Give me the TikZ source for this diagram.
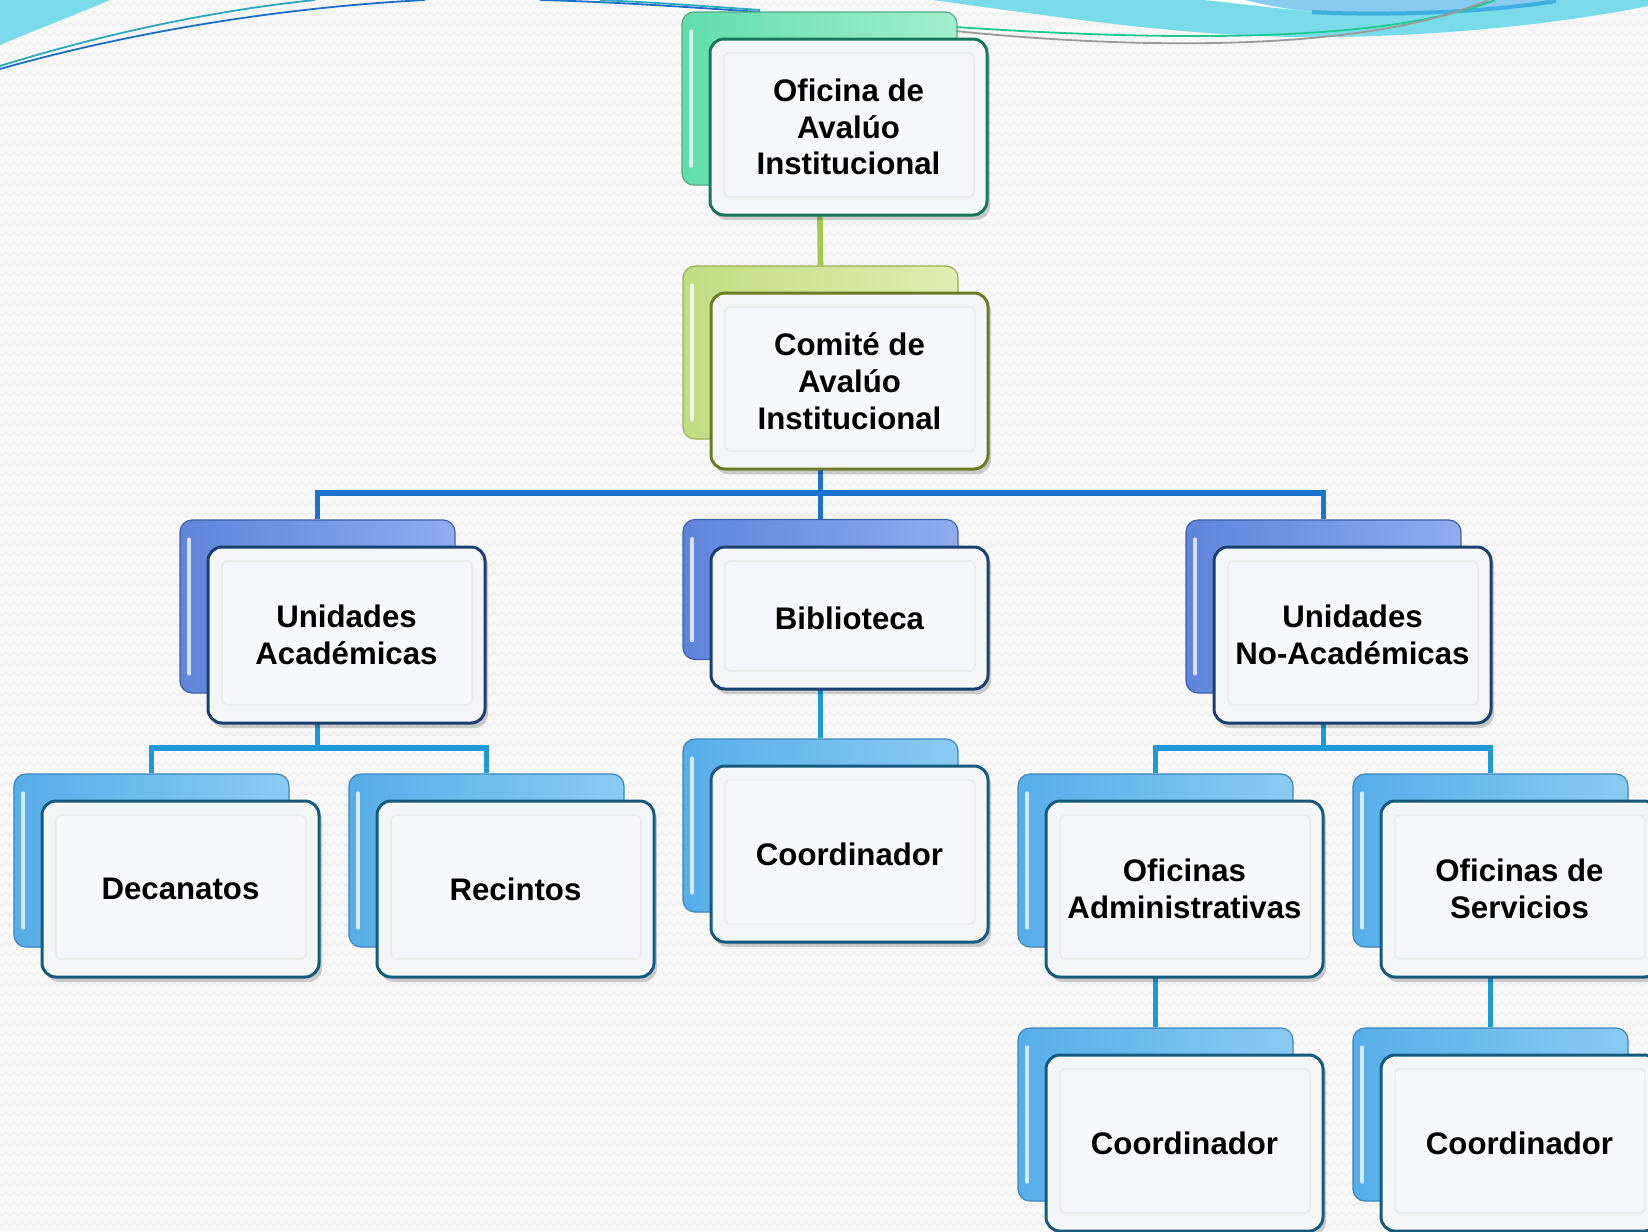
\documentclass[tikz,border=0pt]{standalone}
\usepackage{fontspec}
\setmainfont{Liberation Sans}
\usetikzlibrary{shadows,decorations.pathmorphing}
\pgfdeclarelayer{bg}\pgfdeclarelayer{deco}\pgfdeclarelayer{conn}
\pgfsetlayers{bg,deco,conn,main}
\definecolor{bgc}{HTML}{F8F8F8}
\definecolor{zz}{HTML}{EEEEEE}
\definecolor{cyanA}{HTML}{7ADBE8}
\definecolor{cyanB}{HTML}{88CDF0}
\definecolor{cyanC}{HTML}{40B0E0}
\definecolor{lnTeal}{HTML}{2AA9C0}
\definecolor{lnBlue}{HTML}{1B6FC9}
\definecolor{lnGreen}{HTML}{1DC98F}
\definecolor{lnGrey}{HTML}{9A9A9A}
\definecolor{mintL}{HTML}{A2EFD0}\definecolor{mintD}{HTML}{62DDAE}\definecolor{mintE}{HTML}{55A988}\definecolor{mintF}{HTML}{17775A}
\definecolor{limeL}{HTML}{E0EEB0}\definecolor{limeD}{HTML}{C3DC82}\definecolor{limeE}{HTML}{98B055}\definecolor{limeF}{HTML}{6B7A27}
\definecolor{periL}{HTML}{8FACEE}\definecolor{periD}{HTML}{5F84DA}\definecolor{periE}{HTML}{3F60A8}\definecolor{periF}{HTML}{1C3F72}
\definecolor{skyL}{HTML}{8ACBF3}\definecolor{skyD}{HTML}{57AEE8}\definecolor{skyE}{HTML}{3C86BE}\definecolor{skyF}{HTML}{165A80}
\definecolor{frontfill}{HTML}{F4F6F8}
\definecolor{innerfill}{HTML}{F6F8FB}
\definecolor{conLime}{HTML}{A6C94C}
\definecolor{conBlue}{HTML}{1D72CF}
\definecolor{conSky}{HTML}{1C9BD8}
\newcommand\boxfont{\fontsize{15.6}{18.4}\selectfont\bfseries}
\tikzset{
  backbox/.style={rounded corners=6pt, minimum width=137.5pt, minimum height=86.5pt,
    draw=#1E, line width=0.6pt, left color=#1D, right color=#1L, inner sep=0pt,
    xshift=-14.5pt, yshift=14.25pt},
  frontbox/.style={rounded corners=7pt, minimum width=138.5pt, minimum height=88pt,
    draw=#1F, line width=1.5pt, fill=frontfill, inner sep=0pt, align=center, font=\boxfont,
    drop shadow={shadow xshift=1.5pt, shadow yshift=-2.5pt, fill=black, opacity=0.18},
    path picture={\draw[black!7, line width=0.8pt, fill=innerfill, rounded corners=3pt]
      ([xshift=7pt,yshift=-7pt]path picture bounding box.north west) rectangle
      ([xshift=-6.5pt,yshift=9pt]path picture bounding box.south east);}},
  gloss/.style={white, opacity=0.75, line width=2pt, line cap=round},
  conn/.style={line width=2.8pt, #1},
  thinln/.style={line width=0.9pt, #1}
}
\newcommand\gl[1]{\draw[gloss] ([xshift=5pt,yshift=-10pt]#1.north west) -- ([xshift=5pt,yshift=10pt]#1.south west);}
\begin{document}
\begin{tikzpicture}[x=0.5pt,y=-0.5pt]
\useasboundingbox (0,0) rectangle (1648,1231);
\begin{pgfonlayer}{bg}
  \fill[bgc] (0,0) rectangle (1648,1231);
  \foreach \yy in {4,14,...,1234}
    \draw[zz, line width=0.6pt, decorate, decoration={zigzag, segment length=4pt, amplitude=1pt}] (-4,\yy) -- (1652,\yy);
\end{pgfonlayer}
\begin{pgfonlayer}{deco}
  % top-left wedge and lines
  \fill[cyanA] (0,0) -- (110,0) .. controls (75,15) and (35,30) .. (0,45) -- cycle;
  \draw[thinln=lnTeal] (0,66) .. controls (90,38) and (200,12) .. (315,0);
  \draw[thinln=lnBlue] (0,69) .. controls (120,35) and (270,8) .. (425,0);
  \draw[thinln=lnBlue] (540,0) .. controls (620,2) and (700,8) .. (760,12);
  \draw[thinln=lnTeal] (600,0) .. controls (660,3) .. (760,10);
  % top-right shapes
  \fill[cyanA] (933,0) .. controls (1050,16) and (1180,36) .. (1300,37)
      .. controls (1450,38) and (1580,20) .. (1648,6) -- (1648,0) -- cycle;
  \fill[white] (1205,0) -- (1245,0) .. controls (1270,6) and (1290,10) .. (1312,12) -- cycle;
  \fill[cyanB] (1245,0) .. controls (1280,8) and (1320,14) .. (1400,15)
      .. controls (1470,15) and (1520,8) .. (1560,0) -- cycle;
  \draw[line width=2pt, cyanC] (1312,12) .. controls (1360,15) and (1470,15) .. (1556,1);
  \draw[thinln=lnGreen] (955,27) .. controls (1150,40) and (1380,45) .. (1495,0);
  \draw[thinln=lnGrey] (955,31) .. controls (1120,48) and (1360,55) .. (1488,0);
\end{pgfonlayer}

% back boxes
\node[backbox=mint] (ofib) at (848.5,127) {};
\node[backbox=lime] (comb) at (849.5,381) {};
\node[backbox=peri] (uab) at (346.5,635) {};
\node[backbox=peri, minimum height=70pt] (bibb) at (849.5,618) {};
\node[backbox=peri] (unab) at (1352.5,635) {};
\node[backbox=sky] (decb) at (180.5,889) {};
\node[backbox=sky] (recb) at (515.5,889) {};
\node[backbox=sky] (cbb) at (849.5,854) {};
\node[backbox=sky] (oab) at (1184.5,889) {};
\node[backbox=sky] (osb) at (1519.5,889) {};
\node[backbox=sky] (cab) at (1184.5,1143) {};
\node[backbox=sky] (csb) at (1519.5,1143) {};
\foreach \n in {ofib,comb,uab,bibb,unab,decb,recb,cbb,oab,osb,cab,csb} {\gl{\n}}

% front boxes
\node[frontbox=mint] (ofi) at (848.5,127) {Oficina de\\Aval\'uo\\Institucional};
\node[frontbox=lime] (com) at (849.5,381) {Comit\'e de\\Aval\'uo\\Institucional};
\node[frontbox=peri] (ua) at (346.5,635) {Unidades\\Acad\'emicas};
\node[frontbox=peri, minimum height=71pt] (bib) at (849.5,618) {Biblioteca};
\node[frontbox=peri] (una) at (1352.5,635) {Unidades\\No-Acad\'emicas};
\node[frontbox=sky] (dec) at (180.5,889) {Decanatos};
\node[frontbox=sky] (rec) at (515.5,889) {Recintos};
\node[frontbox=sky] (cb) at (849.5,854) {Coordinador};
\node[frontbox=sky] (oa) at (1184.5,889) {Oficinas\\Administrativas};
\node[frontbox=sky] (os) at (1519.5,889) {Oficinas de\\Servicios};
\node[frontbox=sky] (ca) at (1184.5,1143) {Coordinador};
\node[frontbox=sky] (cs) at (1519.5,1143) {Coordinador};

% connectors
\coordinate (busA) at (820.5,493);
\coordinate (busB) at (317.5,748);
\coordinate (busC) at (1323.5,748);
\begin{pgfonlayer}{conn}
  \draw[conn=conLime] (ofib.south) -- (comb.north);
  \draw[conn=conBlue] (comb.south) -- (bibb.north);
  \draw[conn=conBlue] (uab.north) |- (busA) -| (unab.north);
  \draw[conn=conSky] (uab.south) -- (busB);
  \draw[conn=conSky] (decb.north) |- (busB) -| (recb.north);
  \draw[conn=conSky] (bibb.south) -- (cbb.north);
  \draw[conn=conSky] (unab.south) -- (busC);
  \draw[conn=conSky] (oab.north) |- (busC) -| (osb.north);
  \draw[conn=conSky] (oab.south) -- (cab.north);
  \draw[conn=conSky] (osb.south) -- (csb.north);
\end{pgfonlayer}
\end{tikzpicture}
\end{document}
